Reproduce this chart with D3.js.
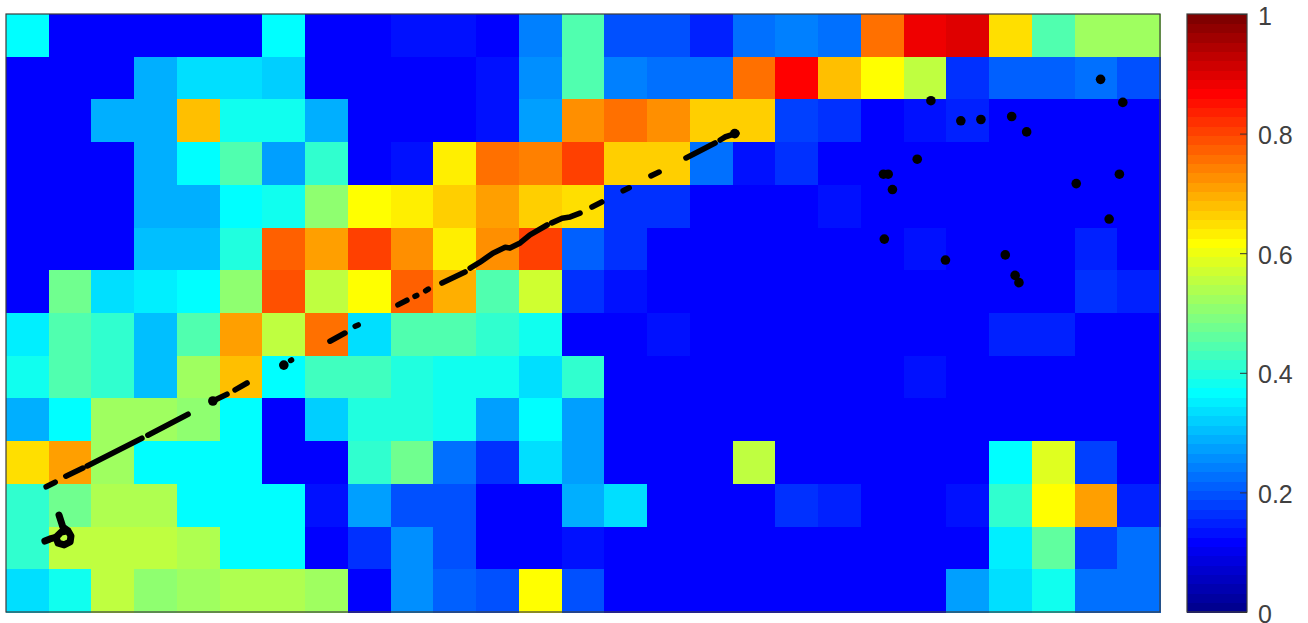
<!DOCTYPE html>
<html>
<head>
<meta charset="utf-8">
<script src="https://cdn.jsdelivr.net/npm/d3@7"></script>
<style>
  html, body { margin: 0; padding: 0; background: #fff; }
  svg { display: block; }
  .cell, .swatch { shape-rendering: crispEdges; }
  .track { fill: none; stroke: #000; stroke-width: 5.6; stroke-linecap: round; stroke-linejoin: round; }
  .track.loop { stroke-width: 7; }
  .site { fill: #000; }
  .frame { fill: none; stroke: #3c3c3c; stroke-width: 1.2; }
  .cbar text { font-family: "Liberation Sans", Arial, sans-serif; font-size: 25px; fill: #404040; }
  .cbar line { stroke: #333; }
  .cbar path { display: none; }
</style>
</head>
<body>
<svg width="1308" height="623"></svg>
<script>
const row00 = [.37,.12,.12,.12,.12,.12,.36,.12,.12,.13,.13,.12,.24,.44,.19,.2,.15,.23,.24,.23,.76,.89,.9,.65,.44,.52,.52];
const row01 = [.12,.12,.12,.29,.34,.34,.32,.12,.12,.12,.12,.135,.25,.44,.24,.22,.22,.76,.87,.68,.61,.56,.17,.21,.21,.22,.19];
const row02 = [.12,.12,.29,.29,.68,.39,.38,.29,.12,.12,.12,.13,.27,.72,.75,.72,.66,.67,.18,.17,.12,.135,.145,.12,.12,.12,.12];
const row03 = [.12,.12,.12,.29,.37,.45,.28,.41,.12,.14,.64,.75,.74,.81,.67,.67,.22,.14,.17,.12,.12,.12,.12,.12,.12,.12,.12];
const row04 = [.12,.12,.12,.29,.29,.37,.38,.5,.62,.64,.66,.71,.67,.655,.165,.16,.12,.12,.12,.13,.12,.12,.12,.12,.12,.12,.12];
const row05 = [.12,.12,.12,.3,.31,.4,.77,.71,.8,.72,.625,.72,.8,.21,.16,.12,.12,.12,.12,.12,.12,.14,.12,.12,.12,.15,.12];
const row06 = [.12,.48,.33,.35,.37,.5,.79,.56,.62,.77,.69,.44,.57,.16,.14,.12,.12,.12,.12,.12,.12,.12,.12,.12,.12,.16,.15];
const row07 = [.35,.45,.42,.31,.45,.71,.55,.75,.33,.44,.45,.41,.38,.12,.12,.13,.12,.12,.12,.12,.12,.12,.12,.15,.15,.12,.12];
const row08 = [.38,.44,.41,.31,.52,.68,.37,.43,.43,.4,.38,.39,.33,.42,.12,.12,.12,.12,.12,.12,.12,.14,.12,.12,.12,.12,.12];
const row09 = [.29,.37,.52,.52,.51,.37,.12,.32,.4,.4,.38,.28,.37,.28,.12,.12,.12,.12,.12,.12,.12,.12,.12,.12,.12,.12,.12];
const row10 = [.65,.71,.53,.37,.37,.37,.12,.12,.41,.48,.22,.17,.34,.28,.12,.12,.12,.56,.12,.12,.12,.12,.12,.36,.59,.18,.12];
const row11 = [.42,.48,.54,.54,.36,.37,.37,.14,.27,.19,.19,.12,.12,.29,.34,.12,.12,.12,.16,.15,.12,.12,.135,.42,.62,.71,.15];
const row12 = [.41,.56,.55,.56,.54,.37,.37,.12,.16,.26,.19,.12,.12,.14,.12,.12,.12,.12,.12,.12,.12,.12,.12,.35,.46,.18,.23];
const row13 = [.33,.38,.56,.51,.52,.54,.54,.52,.12,.26,.21,.19,.61,.19,.12,.12,.12,.12,.12,.12,.12,.12,.28,.33,.39,.23,.22];
const grid = [row00,row01,row02,row03,row04,row05,row06,row07,row08,row09,row10,row11,row12,row13];

// track pieces in cell units (column, row)
const trackLoop = [[1.24,11.73],[1.33,12.01],[1.45,12.10],[1.52,12.22],[1.50,12.36],[1.36,12.43],[1.22,12.39],[1.17,12.25],[1.29,12.13],[1.45,12.10]];
const trackTail = [[0.91,12.34],[1.03,12.29],[1.17,12.25]];
const trackDashes = [
  [[0.94,11.07],[1.15,10.96]],
  [[1.40,10.82],[1.80,10.63]],
  [[1.90,10.58],[3.18,9.93]],
  [[3.32,9.86],[4.26,9.37]],
  [[4.84,9.06],[5.17,8.90]],
  [[5.36,8.80],[5.64,8.64]],
  [[6.66,8.11],[6.68,8.10]],
  [[7.58,7.66],[7.93,7.47]],
  [[8.17,7.31],[8.24,7.28]],
  [[9.17,6.81],[9.38,6.70]],
  [[9.57,6.61],[9.61,6.59]],
  [[9.82,6.48],[9.88,6.44]],
  [[10.20,6.30],[10.74,6.04]],
  [[10.86,5.95],[11.09,5.81],[11.39,5.60],[11.68,5.46],[11.79,5.48],[12.03,5.36],[12.26,5.17],[12.66,4.94]],
  [[12.77,4.89],[13.01,4.78],[13.20,4.75],[13.43,4.66]],
  [[13.71,4.52],[13.94,4.40]],
  [[14.44,4.14],[14.58,4.07]],
  [[15.09,3.79],[15.28,3.70]],
  [[15.91,3.37],[16.59,3.02]],
  [[16.71,2.95],[16.82,2.88],[17.10,2.79]]
];
const sites = [[21.64,2.03],[22.34,2.50],[22.81,2.47],[23.53,2.40],[23.88,2.76],[25.61,1.53],[26.13,2.07],
  [21.32,3.40],[20.53,3.75],[20.64,3.75],[20.74,4.11],[25.04,3.97],[26.05,3.75],[25.81,4.80],
  [20.55,5.27],[21.98,5.76],[23.38,5.64],[23.61,6.12],[23.70,6.29],[6.50,8.22],[4.84,9.06],[17.05,2.80]];

const colorTicks = [0, 0.2, 0.4, 0.6, 0.8, 1];
const levels = 64;

const jet = d3.scaleLinear()
  .domain([0, 0.125, 0.375, 0.625, 0.875, 1])
  .range(['#000080', '#0000ff', '#00ffff', '#ffff00', '#ff0000', '#800000'])
  .clamp(true);
const levelColor = v => jet((Math.min(Math.floor(v * levels), levels - 1) + 1) / levels);

const svg = d3.select('svg');
const x = d3.scaleLinear().domain([0, 27]).range([6, 1160]);
const y = d3.scaleLinear().domain([0, 14]).range([14, 612]);
const c = d3.scaleLinear().domain([0, 1]).range([612, 14]);

const cells = grid.flatMap((row, r) => row.map((v, col) => ({ col, r, v })));
svg.append('g').selectAll('.cell')
  .data(cells)
  .enter().append('rect')
    .attr('class', 'cell')
    .attr('x', d => x(d.col))
    .attr('y', d => y(d.r))
    .attr('width', d => x(d.col + 1) - x(d.col) + 0.5)
    .attr('height', d => y(d.r + 1) - y(d.r) + 0.5)
    .attr('fill', d => levelColor(d.v));

const line = d3.line().x(d => x(d[0])).y(d => y(d[1]));
svg.append('g').selectAll('.track')
  .data([trackLoop, trackTail, ...trackDashes])
  .enter().append('path')
    .attr('class', (d, i) => i < 2 ? 'track loop' : 'track')
    .attr('d', line);

svg.append('g').selectAll('.site')
  .data(sites)
  .enter().append('circle')
    .attr('class', 'site')
    .attr('cx', d => x(d[0]))
    .attr('cy', d => y(d[1]))
    .attr('r', 4.8);

svg.append('rect').attr('class', 'frame')
  .attr('x', x(0)).attr('y', y(0))
  .attr('width', x(27) - x(0)).attr('height', y(14) - y(0));

// colorbar
const barLeft = 1187, barRight = 1247;
svg.append('g').selectAll('.swatch')
  .data(d3.range(levels))
  .enter().append('rect')
    .attr('class', 'swatch')
    .attr('x', barLeft)
    .attr('width', barRight - barLeft)
    .attr('y', i => c((i + 1) / levels))
    .attr('height', i => c(i / levels) - c((i + 1) / levels) + 0.5)
    .attr('fill', i => levelColor((i + 0.5) / levels));

svg.append('rect').attr('class', 'frame')
  .attr('x', barLeft).attr('y', c(1))
  .attr('width', barRight - barLeft).attr('height', c(0) - c(1));

const bar = svg.append('g')
  .attr('class', 'cbar')
  .attr('transform', `translate(${barRight},0)`)
  .call(d3.axisRight(c).tickValues(colorTicks).tickFormat(d => d).tickSizeInner(-7).tickSizeOuter(0).tickPadding(11));
bar.selectAll('text').attr('dy', '0.4em');
</script>
</body>
</html>
